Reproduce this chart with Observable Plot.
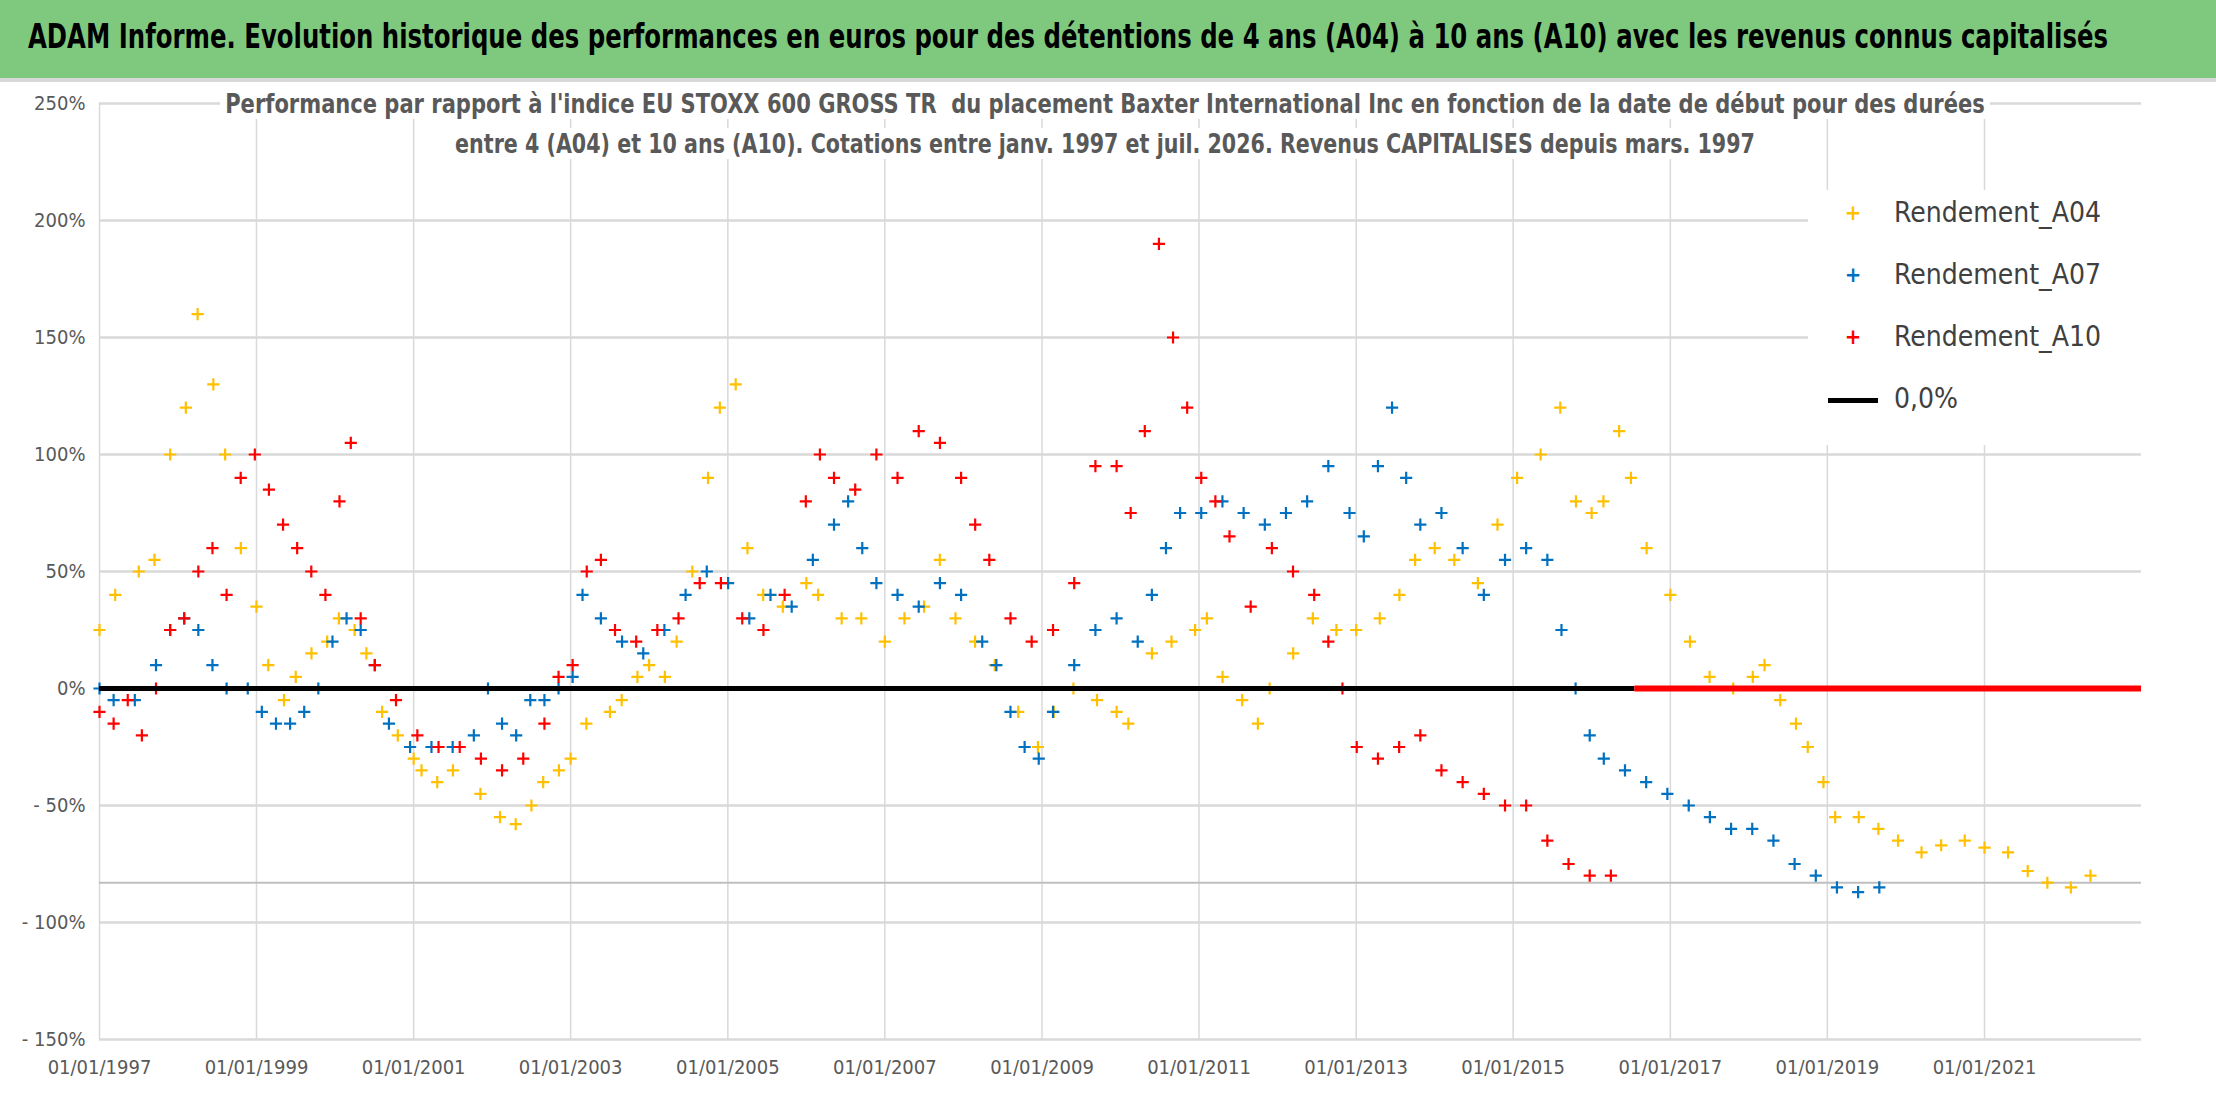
<!DOCTYPE html>
<html>
<head>
<meta charset="utf-8">
<script src="https://cdn.jsdelivr.net/npm/d3@7"></script>
<script src="https://cdn.jsdelivr.net/npm/@observablehq/plot@0.6"></script>
<style>
  body { margin: 0; background: #fff; width: 2216px; height: 1102px; overflow: hidden; position: relative;
         font-family: "DejaVu Sans Condensed", "Liberation Sans", sans-serif; }
  #titleband { position: absolute; left: 0; top: 0; width: 2216px; height: 78px; background: #7FC97E;
               border-bottom: 4px solid #d8d8d8; }
  .fit { position: absolute; white-space: nowrap; transform-origin: 0 0; }
  #title { left: 28px; top: 16px; font-weight: bold; font-size: 34px; color: #000; }
  #sub1, #sub2 { font-size: 27px; color: #595959; font-weight: bold; background: #fff; padding: 0 6px; }
  #sub1 { left: 220px; top: 88px; }
  #sub2 { left: 450px; top: 128px; }
  #legend { position: absolute; left: 1808px; top: 190px; width: 370px; height: 255px; background: #fff;
            font-size: 28px; color: #404040; }
  .row { position: absolute; left: 20px; display: flex; align-items: center; }
  .sym { width: 50px; text-align: center; font-size: 22px; margin-right: 16px; font-weight: bold; }
  #chart { position: absolute; left: 0; top: 0; }
</style>
</head>
<body>
<div id="chart"></div>
<div id="titleband"></div>
<div class="fit" id="title" data-w="2080">ADAM Informe. Evolution historique des performances en euros pour des détentions de 4 ans (A04) à 10 ans (A10) avec les revenus connus capitalisés</div>
<div class="fit" id="sub1" data-w="1770">Performance par rapport à l'indice EU STOXX 600 GROSS TR &nbsp;du placement Baxter International Inc en fonction de la date de début pour des durées</div>
<div class="fit" id="sub2" data-w="1310">entre 4 (A04) et 10 ans (A10). Cotations entre janv. 1997 et juil. 2026. Revenus CAPITALISES depuis mars. 1997</div>
<div id="legend">
  <div class="row" style="top:6px"><span class="sym" style="color:#FFC000">+</span>Rendement_A04</div>
  <div class="row" style="top:68px"><span class="sym" style="color:#0070C0">+</span>Rendement_A07</div>
  <div class="row" style="top:130px"><span class="sym" style="color:#FF0000">+</span>Rendement_A10</div>
  <div class="row" style="top:192px"><span class="sym"><span style="display:inline-block;width:50px;height:5px;background:#000;vertical-align:middle"></span></span>0,0%</div>
</div>
<script>
// start dates as decimal years, performance in %
const a04Years = [1997.0,1997.2,1997.5,1997.7,1997.9,1998.1,1998.25,1998.45,1998.6,1998.8,1999.0,1999.15,1999.35,1999.5,1999.7,1999.9,2000.05,2000.25,2000.4,2000.6,2000.8,2001.0,2001.1,2001.3,2001.5,2001.85,2002.1,2002.3,2002.5,2002.65,2002.85,2003.0,2003.2,2003.5,2003.65,2003.85,2004.0,2004.2,2004.35,2004.55,2004.75,2004.9,2005.1,2005.25,2005.45,2005.7,2006.0,2006.15,2006.45,2006.7,2007.0,2007.25,2007.5,2007.7,2007.9,2008.15,2008.4,2008.7,2008.95,2009.15,2009.4,2009.7,2009.95,2010.1,2010.4,2010.65,2010.95,2011.1,2011.3,2011.55,2011.75,2011.9,2012.2,2012.45,2012.75,2013.0,2013.3,2013.55,2013.75,2014.0,2014.25,2014.55,2014.8,2015.05,2015.35,2015.6,2015.8,2016.0,2016.15,2016.35,2016.5,2016.7,2017.0,2017.25,2017.5,2017.8,2018.05,2018.2,2018.4,2018.6,2018.75,2018.95,2019.1,2019.4,2019.65,2019.9,2020.2,2020.45,2020.75,2021.0,2021.3,2021.55,2021.8,2022.1,2022.35];
const a04Values = [25,40,50,55,100,120,160,130,100,60,35,10,-5,5,15,20,30,25,15,-10,-20,-30,-35,-40,-35,-45,-55,-58,-50,-40,-35,-30,-15,-10,-5,5,10,5,20,50,90,120,130,60,40,35,45,40,30,30,20,30,35,55,30,20,10,-10,-25,-10,0,-5,-10,-15,15,20,25,30,5,-5,-15,0,15,30,25,25,30,40,55,60,55,45,70,90,100,120,80,75,80,110,90,60,40,20,5,0,5,10,-5,-15,-25,-40,-55,-55,-60,-65,-70,-67,-65,-68,-70,-78,-83,-85,-80];

const a07X = [70,80,95,110,120,130,140,150,160,175,185,195,205,215,225,235,245,255,265,275,290,305,320,335,345,355,365,375,385,395,405,412,425,440,455,470,485,500,515,530,545,560,575,590,600,610,620,635,650,665,680,695,705,715,725,735,745,760,775,790,805,815,825,835,850,865,880,895,910,925,940,955,965,975,985,995,1005,1020,1035,1050,1065,1080,1095,1105,1115,1125,1135,1150,1165,1180,1195,1210,1225,1240,1255,1270,1285,1300,1315,1330];
const a07Values = [0,-5,-5,10,25,30,25,10,0,0,-10,-15,-15,-10,0,20,30,25,10,-15,-25,-25,-25,-20,0,-15,-20,-5,-5,0,5,40,30,20,15,25,40,50,45,30,40,35,55,70,80,60,45,40,35,45,40,20,10,-10,-25,-30,-10,10,25,30,20,40,60,75,75,80,75,70,75,80,95,75,65,95,120,90,70,75,60,40,55,60,55,25,0,-20,-30,-35,-40,-45,-50,-55,-60,-60,-65,-75,-80,-85,-87,-85];

const a10X = [70,80,90,100,110,120,130,140,150,160,170,180,190,200,210,220,230,240,248,255,265,280,295,310,325,340,355,370,385,395,405,415,425,435,450,465,480,495,510,525,540,555,570,580,590,605,620,635,650,665,680,690,700,715,730,745,760,775,790,800,810,820,830,840,850,860,870,885,900,915,930,940,950,960,975,990,1005,1020,1035,1050,1065,1080,1095,1110,1125,1140];
const a10Values = [-10,-15,-5,-20,0,25,30,50,60,40,90,100,85,70,60,50,40,80,105,30,10,-5,-20,-25,-25,-30,-35,-30,-15,5,10,50,55,25,20,25,30,45,45,30,25,40,80,100,90,85,100,90,110,105,90,70,55,30,20,25,45,95,95,75,110,190,150,120,90,80,65,35,60,50,40,20,0,-25,-30,-25,-20,-35,-40,-45,-50,-50,-65,-75,-80,-80];

const yTicks = [250,200,150,100,50,0,-50,-100,-150];
const xTickYears = [1997,1999,2001,2003,2005,2007,2009,2011,2013,2015,2017,2019,2021];

// x positions above: 1997 at 70, 55.6 px per year
const pxToYear = (px) => 1997 + (px - 70) / 55.6;
const toDate = (y) => new Date(Date.UTC(Math.floor(y), 0, 1) + (y - Math.floor(y)) * 365.25 * 864e5);

const a04 = a04Years.map((y, i) => ({date: toDate(y), v: a04Values[i]}));
const a07 = a07X.map((x, i) => ({date: toDate(pxToYear(x)), v: a07Values[i]}));
const a10 = a10X.map((x, i) => ({date: toDate(pxToYear(x)), v: a10Values[i]}));

const fmtPct = (d) => d < 0 ? "- " + Math.abs(d) + "%" : d + "%";
const fmtDate = d3.utcFormat("%d/%m/%Y");
const dot = (data, color) => Plot.dot(data, {x: "date", y: "v", symbol: "plus", r: 4, stroke: color, strokeWidth: 2.2});

const chart = Plot.plot({
  width: 2216,
  height: 1102,
  marginLeft: 99,
  marginRight: 75,
  marginTop: 103,
  marginBottom: 63,
  style: {fontFamily: '"DejaVu Sans Condensed", sans-serif', fontSize: "20px", color: "#595959"},
  x: {type: "utc", domain: [toDate(1997), toDate(2023)], label: null},
  y: {domain: [-150, 250], label: null},
  marks: [
    Plot.gridX(xTickYears.map(toDate), {stroke: "#d9d9d9", strokeOpacity: 1, strokeWidth: 1.5}),
    Plot.gridY(yTicks, {stroke: "#d9d9d9", strokeOpacity: 1, strokeWidth: 2.5}),
    Plot.ruleY([-83], {stroke: "#bfbfbf", strokeWidth: 2}),
    Plot.axisY(yTicks, {tickFormat: fmtPct, tickSize: 0, tickPadding: 14, fontSize: 20}),
    Plot.axisX(xTickYears.map(toDate), {tickFormat: fmtDate, tickSize: 0, tickPadding: 20, fontSize: 20}),
    dot(a04, "#FFC000"),
    dot(a07, "#0070C0"),
    dot(a10, "#FF0000"),
    Plot.ruleY([0], {x1: toDate(1997), x2: toDate(2016.55), stroke: "#000", strokeWidth: 5}),
    Plot.ruleY([0], {x1: toDate(2016.55), x2: toDate(2023), stroke: "#FF0000", strokeWidth: 6})
  ]
});
document.getElementById("chart").append(chart);

// squeeze the long headings to the width they take in the picture
document.querySelectorAll(".fit").forEach((el) => {
  const target = +el.dataset.w;
  const w = el.getBoundingClientRect().width;
  if (w > target) el.style.transform = `scaleX(${target / w})`;
});
</script>
</body>
</html>
